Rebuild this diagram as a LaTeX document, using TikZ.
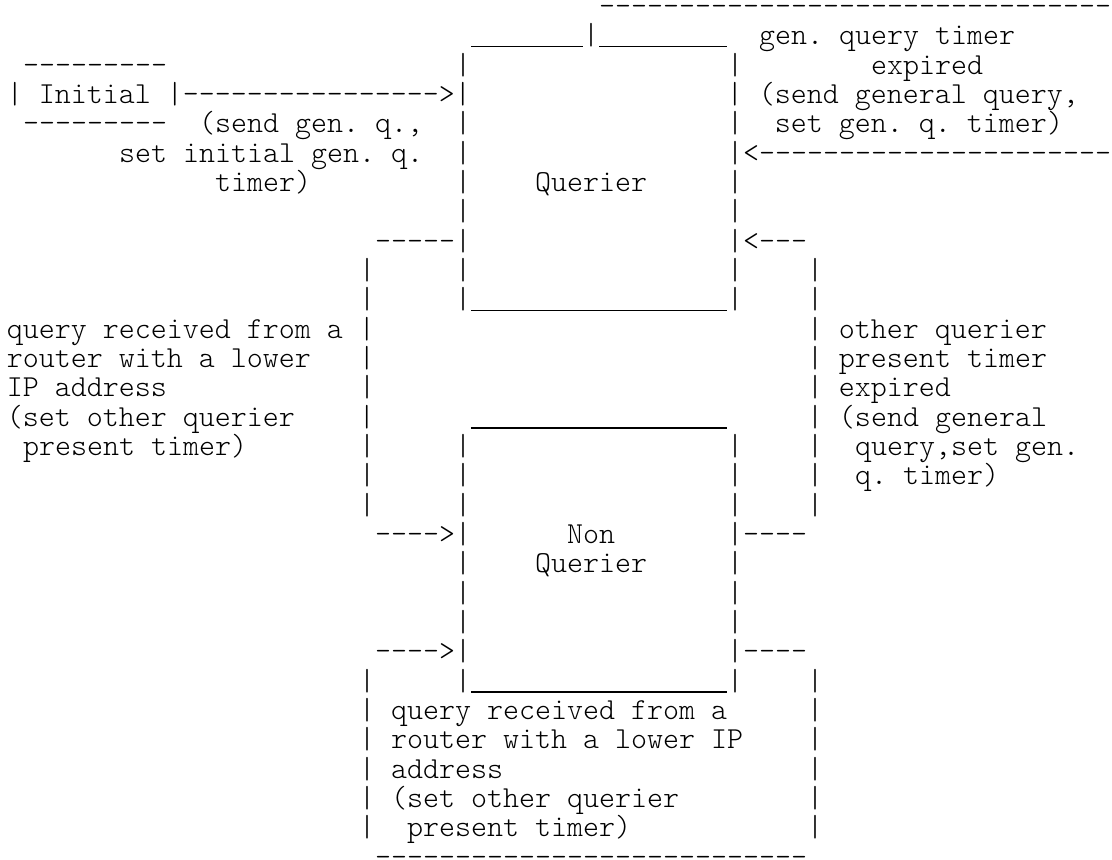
\documentclass[tikz,border=0pt]{standalone}
\usepackage{fontspec}
\IfFontExistsTF{Latin Modern Mono Light}{\setmonofont{Latin Modern Mono Light}}{}
\newlength\cw
\setlength\cw{12pt}
\newcommand\sk[1]{\hspace*{#1\cw}}
\newcommand\us[1]{\rule[-1.95pt]{#1\cw}{0.9pt}}
\tikzset{asc/.style={anchor=base west, inner sep=0pt, outer sep=0pt,
  font=\ttfamily\fontsize{22.857pt}{22pt}\selectfont\frenchspacing, text=black}}
\newcommand\asl[4]{\node[asc] (#1) at ({5.25pt+12pt*#2},{-11.55pt-22pt*#3}) {#4};}
\begin{document}
\begin{tikzpicture}
\fill[white] (0,0) rectangle (834pt,-644.25pt);
\useasboundingbox (0,0) rectangle (834pt,-644.25pt);
\asl{l0}{37}{0}{--------------------------------}
\asl{l1}{29}{1}{\us{7}|\us{8}\sk{2}gen. query timer}
\asl{l2}{1}{2}{---------\sk{18}|\sk{16}|\sk{8}expired}
\asl{l3}{0}{3}{| Initial |---------------->|\sk{16}| (send general query,}
\asl{l4}{1}{4}{---------\sk{2}(send gen. q.,\sk{2}|\sk{16}|\sk{2}set gen. q. timer)}
\asl{l5}{7}{5}{set initial gen. q.\sk{2}|\sk{16}|<----------------------}
\asl{l6}{13}{6}{timer)\sk{9}|\sk{4}Querier\sk{5}|}
\asl{l7}{28}{7}{|\sk{16}|}
\asl{l8}{23}{8}{-----|\sk{16}|<---}
\asl{l9}{22}{9}{|\sk{5}|\sk{16}|\sk{4}|}
\asl{l10}{22}{10}{|\sk{5}|\us{16}|\sk{4}|}
\asl{l11}{0}{11}{query received from a |\sk{27}| other querier}
\asl{l12}{0}{12}{router with a lower\sk{3}|\sk{27}| present timer}
\asl{l13}{0}{13}{IP address\sk{12}|\sk{27}| expired}
\asl{l14}{0}{14}{(set other querier\sk{4}|\sk{6}\us{16}\sk{5}| (send general}
\asl{l15}{1}{15}{present timer)\sk{7}|\sk{5}|\sk{16}|\sk{4}|\sk{2}query,set gen.}
\asl{l16}{22}{16}{|\sk{5}|\sk{16}|\sk{4}|\sk{2}q. timer)}
\asl{l17}{22}{17}{|\sk{5}|\sk{16}|\sk{4}|}
\asl{l18}{23}{18}{---->|\sk{6}Non\sk{7}|----}
\asl{l19}{28}{19}{|\sk{4}Querier\sk{5}|}
\asl{l20}{28}{20}{|\sk{16}|}
\asl{l21}{28}{21}{|\sk{16}|}
\asl{l22}{23}{22}{---->|\sk{16}|----}
\asl{l23}{22}{23}{|\sk{5}|\us{16}|\sk{4}|}
\asl{l24}{22}{24}{| query received from a\sk{5}|}
\asl{l25}{22}{25}{| router with a lower IP\sk{4}|}
\asl{l26}{22}{26}{| address\sk{19}|}
\asl{l27}{22}{27}{| (set other querier\sk{8}|}
\asl{l28}{22}{28}{|\sk{2}present timer)\sk{11}|}
\asl{l29}{23}{29}{---------------------------}
\end{tikzpicture}
\end{document}
